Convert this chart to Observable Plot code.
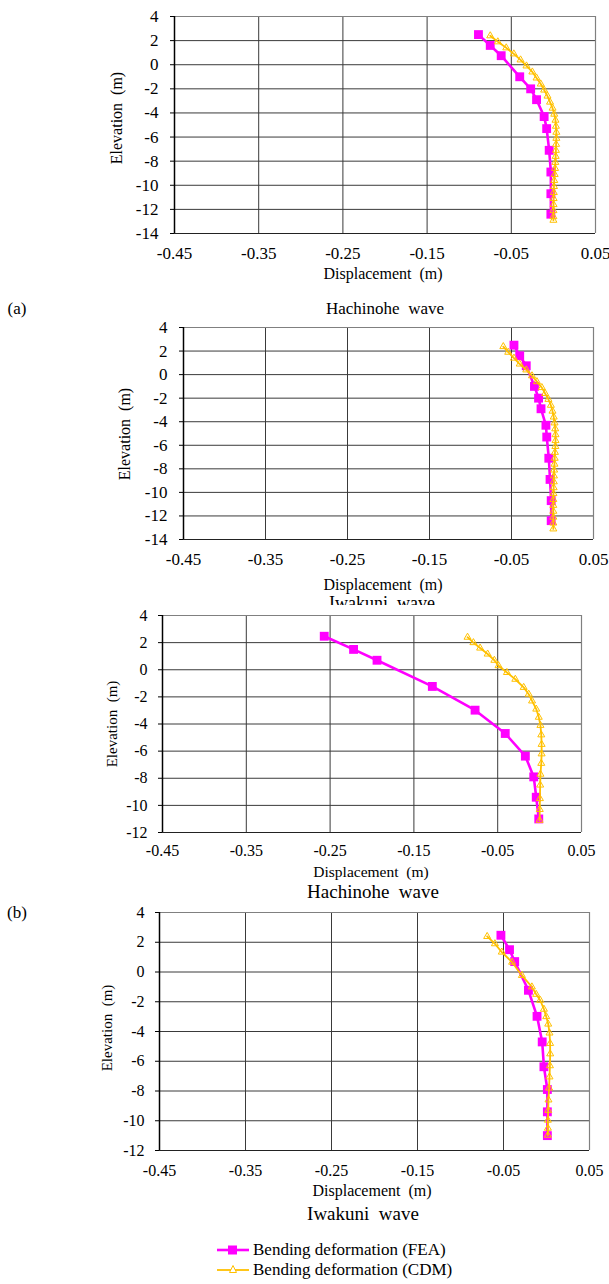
<!DOCTYPE html>
<html>
<head>
<meta charset="utf-8">
<script src="https://cdn.jsdelivr.net/npm/d3@7"></script>
<script src="https://cdn.jsdelivr.net/npm/@observablehq/plot@0.6"></script>
<style>
  body { margin: 0; background: #fff; }
  #page { position: relative; width: 609px; height: 1284px; overflow: hidden; background: #fff;
          font-family: "Liberation Serif", "Times New Roman", serif; color: #000; }
  .t { position: absolute; white-space: pre; line-height: 1; transform: translate(-50%, -50%); }
  .rot { transform: translate(-50%, -50%) rotate(-90deg); }
  .panel { position: absolute; left: 0; }
  .panel text { font-family: "Liberation Serif", "Times New Roman", serif; }
  .legend { position: absolute; left: 216px; font-size: 17px; line-height: 20px; }
  .legend div { display: flex; align-items: center; height: 20px; }
  .legend svg { margin-right: 3px; }
</style>
</head>
<body>
<div id="page"></div>
<script>
// Axis ticks
const xTicks = [-0.45, -0.35, -0.25, -0.15, -0.05, 0.05];
const yTicksA = [-14, -12, -10, -8, -6, -4, -2, 0, 2, 4];
const yTicksB = [-12, -10, -8, -6, -4, -2, 0, 2, 4];

// FEA nodes (elevation, m)
const feaElevA = [2.5, 1.6, 0.75, -1.0, -2.0, -2.9, -4.3, -5.3, -7.1, -8.9, -10.7, -12.4];
const feaElevB = [2.47, 1.5, 0.7, -1.23, -2.98, -4.7, -6.37, -7.9, -9.4, -11.0];

// FEA bending deformation (m)
const feaHachinoheA = [-0.089, -0.075, -0.062, -0.040, -0.027, -0.020, -0.011, -0.008, -0.005, -0.003, -0.003, -0.003];
const feaIwakuniA = [-0.047, -0.040, -0.032, -0.022, -0.017, -0.014, -0.008, -0.007, -0.0045, -0.003, -0.0016, -0.0016];
const feaHachinoheB = [-0.257, -0.222, -0.194, -0.128, -0.077, -0.041, -0.017, -0.007, -0.004, -0.001];
const feaIwakuniB = [-0.053, -0.043, -0.037, -0.021, -0.011, -0.005, -0.003, 0.001, 0.001, 0.001];

// CDM bending deformation: elevation (m) and displacement (m)
const cdmElevHachinoheA = [2.4, 1.9, 1.4, 0.9, 0.4, -0.1, -0.6, -1.1, -1.6, -2.1, -2.6, -3.1, -3.6, -4.1, -4.6, -5.1, -5.6, -6.1, -6.6, -7.1, -7.6, -8.1, -8.6, -9.1, -9.6, -10.1, -10.6, -11.1, -11.6, -12.1, -12.6, -12.9];
const cdmHachinoheA = [-0.075, -0.066, -0.056, -0.047, -0.039, -0.032, -0.025, -0.020, -0.015, -0.011, -0.007, -0.004, -0.001, 0.001, 0.0025, 0.003, 0.0035, 0.0035, 0.0032, 0.003, 0.0027, 0.0023, 0.002, 0.0015, 0.001, 0.0007, 0.0005, 0.0003, 0.0002, 0.0001, 0.0, 0.0];

const cdmElevIwakuniA = [2.38, 1.9, 1.4, 0.9, 0.4, -0.1, -0.6, -1.1, -1.6, -2.1, -2.6, -3.1, -3.6, -4.1, -4.6, -5.1, -5.6, -6.1, -6.6, -7.1, -7.6, -8.1, -8.6, -9.1, -9.6, -10.1, -10.6, -11.1, -11.6, -12.1, -12.6, -13.1];
const cdmIwakuniA = [-0.060, -0.054, -0.047, -0.040, -0.032, -0.025, -0.019, -0.013, -0.009, -0.005, -0.002, 0.0, 0.0015, 0.0025, 0.0033, 0.0037, 0.0037, 0.0035, 0.003, 0.0027, 0.0024, 0.002, 0.0018, 0.0016, 0.0014, 0.0012, 0.001, 0.001, 0.001, 0.001, 0.001, 0.001];

const cdmElevHachinoheB = [2.4, 2.0, 1.6, 1.16, 0.7, 0.3, -0.2, -0.7, -1.3, -1.8, -2.3, -2.9, -3.5, -4.1, -4.8, -5.5, -6.2, -6.9, -7.7, -8.5, -9.5, -10.3, -11.1];
const cdmHachinoheB = [-0.086, -0.079, -0.071, -0.062, -0.054, -0.049, -0.039, -0.029, -0.019, -0.013, -0.009, -0.004, -0.001, 0.001, 0.002, 0.0024, 0.0024, 0.002, 0.001, 0.0007, 0.0004, 0.0002, 0.0];

const cdmElevIwakuniB = [2.39, 1.9, 1.34, 0.66, -0.23, -1.0, -1.5, -1.9, -2.5, -3.0, -3.5, -4.1, -4.8, -5.5, -6.3, -7.05, -7.8, -8.6, -9.3, -9.96, -10.5, -10.97];
const cdmIwakuniB = [-0.069, -0.060, -0.052, -0.040, -0.0286, -0.017, -0.012, -0.0073, -0.003, -0.0003, 0.002, 0.0035, 0.0042, 0.0043, 0.004, 0.0035, 0.003, 0.0023, 0.002, 0.0016, 0.0016, 0.0016];

const zip = (xs, ys) => xs.map((x, i) => ({x, y: ys[i]}));

const SERIF = "'Liberation Serif', 'Times New Roman', serif";
const FEA_COLOR = "#ff00ff";
const CDM_COLOR = "#ffc000";
const GRID = "#3a3a3a";

const page = document.getElementById("page");

function addText(str, x, y, size, extraClass = "") {
  const d = document.createElement("div");
  d.className = "t " + extraClass;
  d.style.left = x + "px";
  d.style.top = y + "px";
  d.style.fontSize = size + "px";
  d.textContent = str;
  page.appendChild(d);
}

// One displacement profile panel, frame given in page pixels [left, top, right, bottom]
function addPanel({fea, cdm, yTicks, svgTop, frame, tickFont, xPad, yPad, opaque}) {
  const [L, T, R, B] = frame;
  const yMin = yTicks[0], yMax = yTicks[yTicks.length - 1];
  const innerX = xTicks.slice(1, -1);
  const innerY = yTicks.slice(1, -1);
  const chart = Plot.plot({
    width: 609,
    height: B - svgTop + 40,
    marginLeft: L,
    marginRight: 609 - R,
    marginTop: T - svgTop,
    marginBottom: 40,
    style: {background: opaque ? "#fff" : "transparent", fontFamily: SERIF, overflow: "visible"},
    x: {domain: [-0.45, 0.05]},
    y: {domain: [yMin, yMax]},
    marks: [
      Plot.ruleX(innerX, {stroke: GRID, strokeWidth: 1}),
      Plot.ruleY(innerY, {stroke: GRID, strokeWidth: 1}),
      Plot.ruleY([yMax], {stroke: "#808080", strokeWidth: 1.2}),
      Plot.ruleX([0.05], {stroke: "#808080", strokeWidth: 1.2}),
      Plot.ruleY([yMin], {stroke: "#222", strokeWidth: 1.2}),
      Plot.ruleX([-0.45], {stroke: "#000", strokeWidth: 1.5}),
      Plot.axisX({ticks: xTicks, tickFormat: d => d.toFixed(2), tickSize: 0, tickPadding: xPad, fontSize: tickFont, fontFamily: SERIF, label: null}),
      Plot.axisY({ticks: yTicks, tickFormat: d => String(d), tickSize: 4, tickPadding: yPad, fontSize: tickFont, fontFamily: SERIF, label: null, stroke: "#000"}),
      Plot.line(fea, {x: "x", y: "y", stroke: FEA_COLOR, strokeWidth: 2.6}),
      Plot.dot(fea, {x: "x", y: "y", symbol: "square", fill: FEA_COLOR, r: 5}),
      Plot.line(cdm, {x: "x", y: "y", stroke: CDM_COLOR, strokeWidth: 1.8}),
      Plot.dot(cdm, {x: "x", y: "y", symbol: "triangle", stroke: CDM_COLOR, fill: "none", strokeWidth: 1, r: 2.6})
    ]
  });
  chart.classList.add("panel");
  chart.style.top = svgTop + "px";
  page.appendChild(chart);
}

// (a) Hachinohe wave
addPanel({fea: zip(feaHachinoheA, feaElevA), cdm: zip(cdmHachinoheA, cdmElevHachinoheA), yTicks: yTicksA,
  svgTop: 0, frame: [174, 16, 595, 233], tickFont: 17, xPad: 13, yPad: 12});
addText("Elevation  (m)", 117, 118, 16, "rot");
addText("Displacement  (m)", 383, 274, 16);
addText("(a)", 17, 308, 17);
addText("Hachinohe  wave", 385, 308, 17);

// (a) Iwakuni wave
addPanel({fea: zip(feaIwakuniA, feaElevA), cdm: zip(cdmIwakuniA, cdmElevIwakuniA), yTicks: yTicksA,
  svgTop: 316, frame: [183, 327, 593, 539], tickFont: 17, xPad: 13, yPad: 12});
addText("Elevation  (m)", 125, 434, 16, "rot");
addText("Displacement  (m)", 383, 585, 16);
addText("Iwakuni  wave", 382, 603, 18);

// (b) Hachinohe wave
addPanel({fea: zip(feaHachinoheB, feaElevB), cdm: zip(cdmHachinoheB, cdmElevHachinoheB), yTicks: yTicksB,
  svgTop: 605, frame: [162, 615, 581, 832], tickFont: 16, xPad: 12, yPad: 11, opaque: true});
addText("Elevation  (m)", 112, 724, 15, "rot");
addText("Displacement  (m)", 371, 872, 15.5);
addText("Hachinohe  wave", 373, 891, 19);
addText("(b)", 17, 912, 17);

// (b) Iwakuni wave
addPanel({fea: zip(feaIwakuniB, feaElevB), cdm: zip(cdmIwakuniB, cdmElevIwakuniB), yTicks: yTicksB,
  svgTop: 900, frame: [159, 912, 589, 1150], tickFont: 16, xPad: 14, yPad: 11});
addText("Elevation  (m)", 107, 1028, 15, "rot");
addText("Displacement  (m)", 372, 1191, 16);
addText("Iwakuni  wave", 363, 1213, 19);

// Legend
const legend = document.createElement("div");
legend.className = "legend";
legend.style.top = "1240px";
legend.innerHTML = `
  <div><svg width="34" height="14"><line x1="1" y1="7" x2="33" y2="7" stroke="${FEA_COLOR}" stroke-width="2.6"/><rect x="12" y="2.5" width="9" height="9" fill="${FEA_COLOR}"/></svg>Bending deformation (FEA)</div>
  <div><svg width="34" height="14"><line x1="1" y1="7" x2="33" y2="7" stroke="${CDM_COLOR}" stroke-width="1.8"/><path d="M17,2.5 L20.5,9.5 L13.5,9.5 Z" fill="#fff" stroke="${CDM_COLOR}" stroke-width="1"/></svg>Bending deformation (CDM)</div>`;
page.appendChild(legend);
</script>
</body>
</html>
